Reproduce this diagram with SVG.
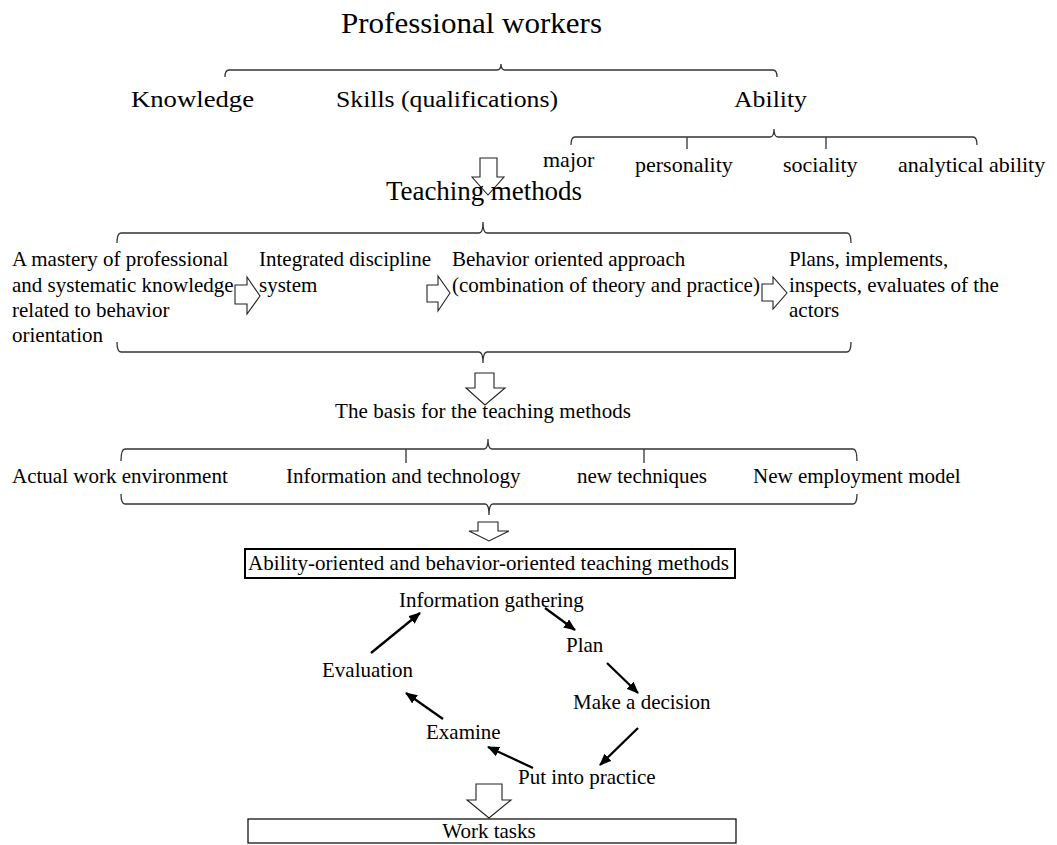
<svg xmlns="http://www.w3.org/2000/svg" width="1057" height="845" viewBox="0 0 1057 845">
<style>
text{font-family:"Liberation Serif","Times New Roman",serif;fill:#000}
.t21{font-size:21px}
.t22{font-size:22px}
.t24{font-size:24px}
.br{fill:none;stroke:#333;stroke-width:1.3}
.ha{fill:#fff;stroke:#222;stroke-width:1.1}
.cy{stroke:#000;stroke-width:2.3;fill:none;marker-end:url(#ah)}
.box{fill:#fff;stroke:#000}
</style>
<defs>
<marker id="ah" viewBox="0 0 12 10" refX="11" refY="5" markerWidth="12" markerHeight="10" markerUnits="userSpaceOnUse" orient="auto">
<path d="M0,0 L12,5 L0,10 z" fill="#000"/>
</marker>
</defs>
<rect width="1057" height="845" fill="#fff"/>
<g id="connectors">
<path class="br" d="M225,77 Q225,70 229,70 L497,70 Q501,70 501,64 Q501,70 505,70 L773,70 Q777,70 777,77"/>
<path class="br" d="M571,145 Q571,137 575,137 L770,137 Q774,137 774,129 Q774,137 778,137 L973,137 Q977,137 977,145 M687,137 V149 M826,137 V149"/>
<path class="br" d="M117,243 Q117,233 121,233 L479,233 Q483,233 483,222 Q483,233 487,233 L847,233 Q851,233 851,243"/>
<path class="br" d="M117,342 Q117,352 121,352 L479,352 Q483,352 483,363 Q483,352 487,352 L847,352 Q851,352 851,342"/>
<path class="br" d="M121,461 Q121,449 125,449 L484,449 Q488,449 488,439 Q488,449 492,449 L853,449 Q857,449 857,461 M406,449 V463 M644,449 V463"/>
<path class="br" d="M121,494 Q121,504 125,504 L485,504 Q489,504 489,515 Q489,504 493,504 L853,504 Q857,504 857,494"/>
<polygon class="ha" points="480,158 497,158 497,177 504,177 488,195 472,177 480,177"/>
<polygon class="ha" points="475,373 494,373 494,388 505,388 485,405 466,388 475,388"/>
<polygon class="ha" points="478,522 498,522 498,531 509,531 489,541 469,531 478,531"/>
<polygon class="ha" points="476,784 502,784 502,800 511,800 489,818 467,800 476,800"/>
<polygon class="ha" points="235,285 247,285 247,277 260,296 247,314 247,304 235,304"/>
<polygon class="ha" points="427,285 438,285 438,276 450,293 438,311 438,302 427,302"/>
<polygon class="ha" points="762,284 773,284 773,277 787,293 773,309 773,301 762,301"/>
<line class="cy" x1="371" y1="653" x2="420" y2="613"/>
<line class="cy" x1="545" y1="608" x2="575" y2="630"/>
<line class="cy" x1="607" y1="663" x2="638" y2="693"/>
<line class="cy" x1="638" y1="728" x2="600" y2="765"/>
<line class="cy" x1="533" y1="768" x2="488" y2="747"/>
<line class="cy" x1="443" y1="719" x2="406" y2="693"/>
</g>
<g id="n-professional"><text x="341" y="33" style="font-size:29px" textLength="261" lengthAdjust="spacingAndGlyphs">Professional workers</text></g>
<g id="n-knowledge"><text class="t24" x="131" y="107" textLength="123" lengthAdjust="spacingAndGlyphs">Knowledge</text></g>
<g id="n-skills"><text class="t24" x="336" y="107" textLength="222" lengthAdjust="spacingAndGlyphs">Skills (qualifications)</text></g>
<g id="n-ability"><text class="t24" x="734" y="107" textLength="73" lengthAdjust="spacingAndGlyphs">Ability</text></g>
<g id="n-major"><text class="t22" x="543" y="167">major</text></g>
<g id="n-personality"><text class="t22" x="635" y="172">personality</text></g>
<g id="n-sociality"><text class="t22" x="783" y="172">sociality</text></g>
<g id="n-analytical"><text class="t22" x="898" y="172">analytical ability</text></g>
<g id="n-teaching"><text x="386" y="200" style="font-size:27px" textLength="196">Teaching methods</text></g>
<g id="n-mastery" class="t21">
<text x="12" y="266">A mastery of professional</text>
<text x="12" y="292">and systematic knowledge</text>
<text x="12" y="317">related to behavior</text>
<text x="12" y="342">orientation</text>
</g>
<g id="n-integrated" class="t21">
<text x="259" y="266">Integrated discipline</text>
<text x="259" y="292">system</text>
</g>
<g id="n-behavior" class="t21">
<text x="452" y="266">Behavior oriented approach</text>
<text x="452" y="292">(combination of theory and practice)</text>
</g>
<g id="n-plans" class="t21">
<text x="789" y="266">Plans, implements,</text>
<text x="789" y="292">inspects, evaluates of the</text>
<text x="789" y="317">actors</text>
</g>
<g id="n-basis"><text class="t21" x="335" y="418" textLength="296">The basis for the teaching methods</text></g>
<g id="n-actual"><text class="t21" x="12" y="483">Actual work environment</text></g>
<g id="n-info-tech"><text class="t21" x="286" y="483">Information and technology</text></g>
<g id="n-new-tech"><text class="t21" x="577" y="483">new techniques</text></g>
<g id="n-employment"><text class="t21" x="753" y="483">New employment model</text></g>
<g id="n-ability-box">
<rect class="box" x="245" y="549" width="490" height="29" stroke-width="2"/>
<text class="t21" x="248" y="570" textLength="481">Ability-oriented and behavior-oriented teaching methods</text>
</g>
<g id="n-info-gathering"><text class="t21" x="399" y="607">Information gathering</text></g>
<g id="n-plan"><text class="t21" x="566" y="652">Plan</text></g>
<g id="n-evaluation"><text class="t21" x="322" y="677">Evaluation</text></g>
<g id="n-decision"><text class="t21" x="573" y="709">Make a decision</text></g>
<g id="n-examine"><text class="t21" x="426" y="739">Examine</text></g>
<g id="n-practice"><text class="t21" x="518" y="784">Put into practice</text></g>
<g id="n-work-tasks">
<rect class="box" x="248" y="819" width="488" height="24" stroke-width="1.2"/>
<text class="t21" x="489" y="838" text-anchor="middle">Work tasks</text>
</g>
</svg>
